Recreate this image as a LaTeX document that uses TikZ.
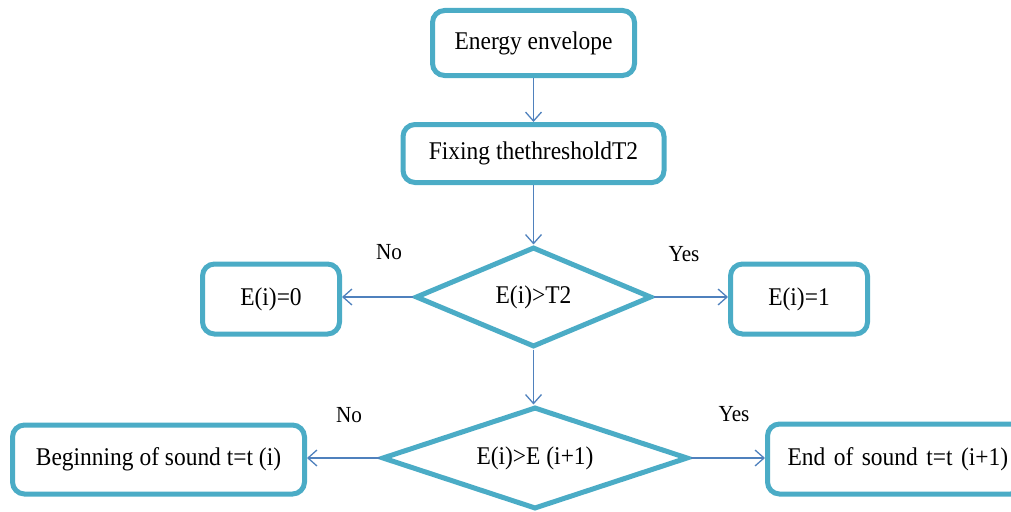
\documentclass[tikz,border=0pt]{standalone}
\usepackage{fontspec}
\setmainfont[FakeStretch=0.92]{Liberation Serif}
\usetikzlibrary{shapes.geometric,arrows.meta}
\definecolor{boxteal}{HTML}{4BACC6}
\definecolor{arrowblue}{HTML}{4F81BD}
\begin{document}
\begin{tikzpicture}[x=1pt,y=-1pt,
  box/.style={draw=boxteal,line width=5pt,rounded corners=12pt,fill=white,
    inner sep=0pt,font=\fontsize{25.5}{30}\selectfont},
  decision/.style={draw=boxteal,line width=5pt,diamond,aspect=3,fill=white,inner sep=0pt,
    font=\fontsize{25.5}{30}\selectfont},
  link/.style={draw=arrowblue,line width=1.3pt,-{Straight Barb[length=9pt,width=16pt,line width=1.3pt]}},
  lbl/.style={font=\fontsize{23}{27}\selectfont,inner sep=0pt}]
\useasboundingbox (0,0) rectangle (1011,511);
\clip (0,0) rectangle (1011,511);
\node[box,minimum width=202pt,minimum height=65pt] (env) at (533.5,43) {Energy envelope};
\node[box,minimum width=261pt,minimum height=58pt] (fix) at (533.5,153.5) {Fixing thethresholdT2};
\node[decision,minimum width=236pt,minimum height=100pt] (d1) at (533.5,297) {E(i)>T2};
\node[box,minimum width=137pt,minimum height=70pt] (e0) at (271,299) {E(i)=0};
\node[box,minimum width=137pt,minimum height=70pt] (e1) at (799,299) {E(i)=1};
\node[decision,minimum width=306pt,minimum height=102pt] (d2) at (535,458) {E(i)>E (i+1)};
\node[box,minimum width=292pt,minimum height=69pt] (beg) at (158.5,459.5) {Beginning of sound t=t (i)};
\node[box,minimum width=255pt,minimum height=70pt,text width=255pt,align=left] (end) at (895,459) {\hspace{20pt}End of sound t=t (i+1)};
\draw[link] (env) -- (fix);
\draw[link] (fix) -- (d1);
\draw[link] (d1.west) -- (d1.west -| e0.east);
\draw[link] (d1.east) -- (d1.east -| e1.west);
\draw[link] (d1.south) -- (d1.south |- d2.north);
\draw[link] (d2.west) -- (d2.west -| beg.east);
\draw[link] (d2.east) -- (d2.east -| end.west);
\node[lbl] (no1) at (389,252) {No};
\node[lbl] (yes1) at (684,254) {Yes};
\node[lbl] (no2) at (349,415) {No};
\node[lbl] (yes2) at (734,414) {Yes};
\end{tikzpicture}
\end{document}
